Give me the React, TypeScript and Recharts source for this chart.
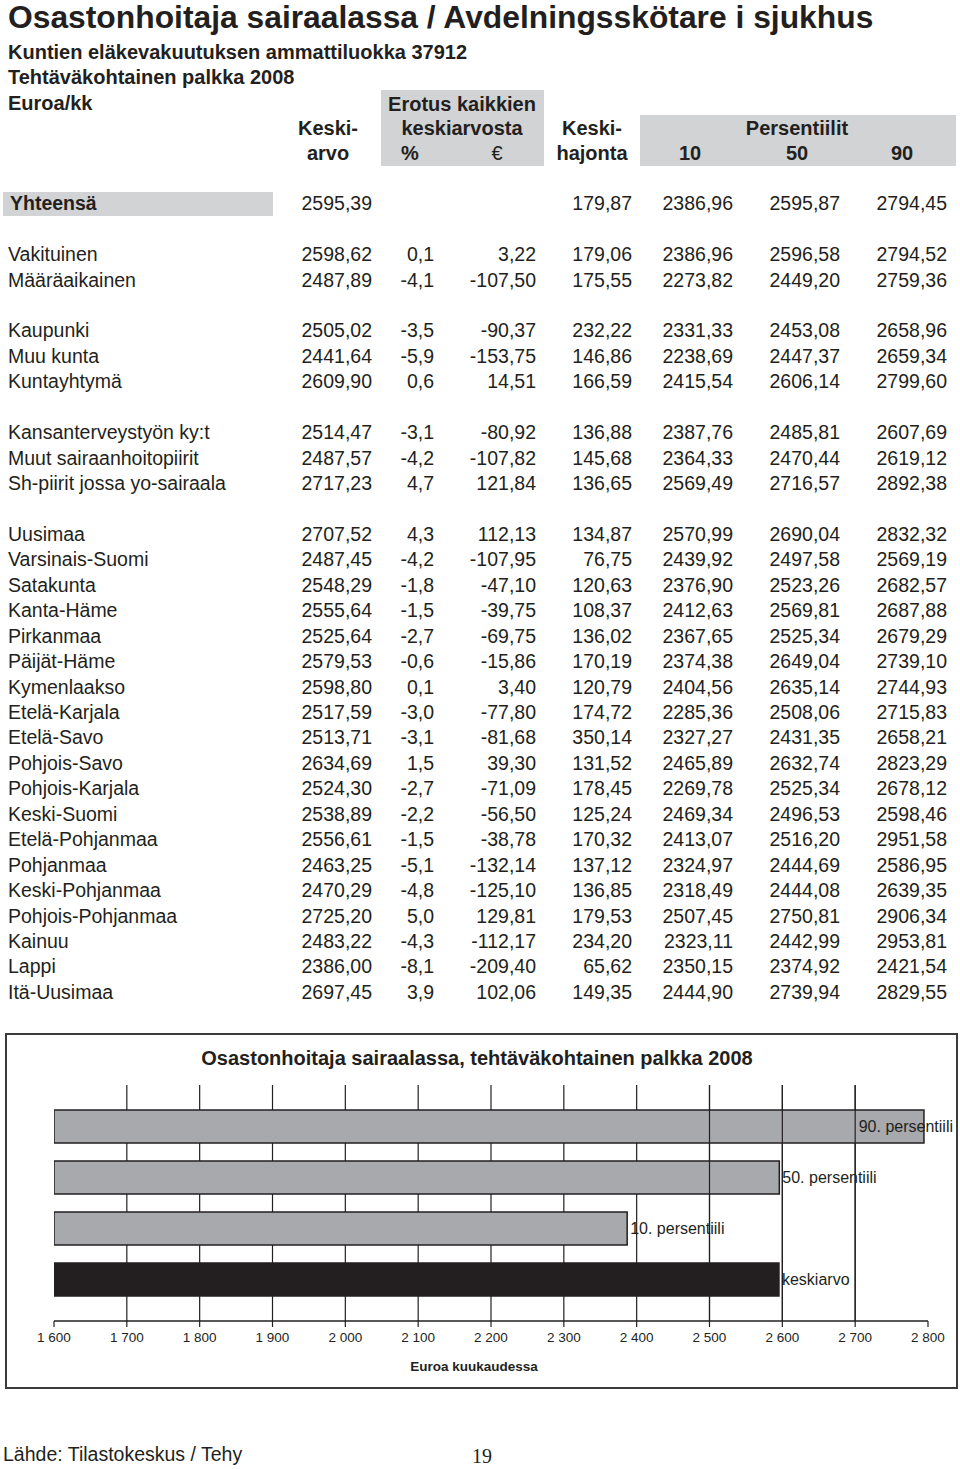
import React from 'react';
import { BarChart, Bar, XAxis, YAxis, CartesianGrid, Cell, LabelList, Label, ReferenceLine } from 'recharts';

const FONT = "'Liberation Sans', Arial, Helvetica, sans-serif";
const SERIF = "'Liberation Serif', 'Times New Roman', serif";
const INK = '#231f20';
const GREY_BOX = '#d1d3d4';

// ---------- table data ----------
const rowLabels = ['Yhteensä', 'Vakituinen', 'Määräaikainen', 'Kaupunki', 'Muu kunta', 'Kuntayhtymä', 'Kansanterveystyön ky:t', 'Muut sairaanhoitopiirit', 'Sh-piirit jossa yo-sairaala', 'Uusimaa', 'Varsinais-Suomi', 'Satakunta', 'Kanta-Häme', 'Pirkanmaa', 'Päijät-Häme', 'Kymenlaakso', 'Etelä-Karjala', 'Etelä-Savo', 'Pohjois-Savo', 'Pohjois-Karjala', 'Keski-Suomi', 'Etelä-Pohjanmaa', 'Pohjanmaa', 'Keski-Pohjanmaa', 'Pohjois-Pohjanmaa', 'Kainuu', 'Lappi', 'Itä-Uusimaa'];
const groupSizes = [1, 2, 3, 3, 19];
const keskiarvo = [2595.39, 2598.62, 2487.89, 2505.02, 2441.64, 2609.90, 2514.47, 2487.57, 2717.23, 2707.52, 2487.45, 2548.29, 2555.64, 2525.64, 2579.53, 2598.80, 2517.59, 2513.71, 2634.69, 2524.30, 2538.89, 2556.61, 2463.25, 2470.29, 2725.20, 2483.22, 2386.00, 2697.45];
const erotusPct = [null, 0.1, -4.1, -3.5, -5.9, 0.6, -3.1, -4.2, 4.7, 4.3, -4.2, -1.8, -1.5, -2.7, -0.6, 0.1, -3.0, -3.1, 1.5, -2.7, -2.2, -1.5, -5.1, -4.8, 5.0, -4.3, -8.1, 3.9];
const erotusEur = [null, 3.22, -107.50, -90.37, -153.75, 14.51, -80.92, -107.82, 121.84, 112.13, -107.95, -47.10, -39.75, -69.75, -15.86, 3.40, -77.80, -81.68, 39.30, -71.09, -56.50, -38.78, -132.14, -125.10, 129.81, -112.17, -209.40, 102.06];
const hajonta = [179.87, 179.06, 175.55, 232.22, 146.86, 166.59, 136.88, 145.68, 136.65, 134.87, 76.75, 120.63, 108.37, 136.02, 170.19, 120.79, 174.72, 350.14, 131.52, 178.45, 125.24, 170.32, 137.12, 136.85, 179.53, 234.20, 65.62, 149.35];
const p10 = [2386.96, 2386.96, 2273.82, 2331.33, 2238.69, 2415.54, 2387.76, 2364.33, 2569.49, 2570.99, 2439.92, 2376.90, 2412.63, 2367.65, 2374.38, 2404.56, 2285.36, 2327.27, 2465.89, 2269.78, 2469.34, 2413.07, 2324.97, 2318.49, 2507.45, 2323.11, 2350.15, 2444.90];
const p50 = [2595.87, 2596.58, 2449.20, 2453.08, 2447.37, 2606.14, 2485.81, 2470.44, 2716.57, 2690.04, 2497.58, 2523.26, 2569.81, 2525.34, 2649.04, 2635.14, 2508.06, 2431.35, 2632.74, 2525.34, 2496.53, 2516.20, 2444.69, 2444.08, 2750.81, 2442.99, 2374.92, 2739.94];
const p90 = [2794.45, 2794.52, 2759.36, 2658.96, 2659.34, 2799.60, 2607.69, 2619.12, 2892.38, 2832.32, 2569.19, 2682.57, 2687.88, 2679.29, 2739.10, 2744.93, 2715.83, 2658.21, 2823.29, 2678.12, 2598.46, 2951.58, 2586.95, 2639.35, 2906.34, 2953.81, 2421.54, 2829.55];

// ---------- chart data ----------
const chartCategories = ['90. persentiili', '50. persentiili', '10. persentiili', 'keskiarvo'];
const chartValues = [2794.45, 2595.87, 2386.96, 2595.39];
const chartColors = ['#a7a9ac', '#a7a9ac', '#a7a9ac', INK];
const xTickValues = [1600, 1700, 1800, 1900, 2000, 2100, 2200, 2300, 2400, 2500, 2600, 2700, 2800];
const xTickLabels = ['1 600', '1 700', '1 800', '1 900', '2 000', '2 100', '2 200', '2 300', '2 400', '2 500', '2 600', '2 700', '2 800'];
const gridValues = [1700, 1800, 1900, 2000, 2100, 2200, 2300, 2400, 2500, 2600, 2700];
const overlayGridValues = [2500, 2600, 2700];

const chartData = chartCategories.map((name, i) => ({ name, value: chartValues[i] }));

const fmt = (v: number | null, d: number) => (v === null ? '' : v.toFixed(d).replace('.', ','));

type TxtProps = { x: number; y: number; size: number; bold?: boolean; align?: 'left' | 'right' | 'center'; family?: string; children: React.ReactNode };
const Txt = ({ x, y, size, bold, align = 'left', family = FONT, children }: TxtProps) => {
  const style: React.CSSProperties = {
    position: 'absolute',
    top: y - size / 2,
    fontSize: size,
    lineHeight: `${size}px`,
    fontFamily: family,
    fontWeight: bold ? 700 : 400,
    color: INK,
    whiteSpace: 'nowrap',
  };
  if (align === 'left') style.left = x;
  else if (align === 'right') { style.right = 960 - x; style.textAlign = 'right'; }
  else { style.left = x - 300; style.width = 600; style.textAlign = 'center'; }
  return <div style={style}>{children}</div>;
};

const colRights = [372, 434, 536, 632, 733, 840, 947];
const ROW0 = 204;
const PITCH = 25.44;
const BODY = 19.5;

const BarLabel = (props: any) => {
  const { x, y, width, height, value } = props;
  const fs = 16;
  const est = String(value).length * fs * 0.4;
  const limit = 948;
  const end = x + width + 3;
  const overflow = end + est > limit;
  return (
    <text
      x={overflow ? limit : end}
      y={y + height / 2}
      textAnchor={overflow ? 'end' : 'start'}
      dominantBaseline="central"
      fontSize={fs}
      fontFamily={FONT}
      fill={INK}
    >
      {value}
    </text>
  );
};

export default function App() {
  const slots: number[] = [];
  let slot = 0;
  groupSizes.forEach((g) => {
    for (let k = 0; k < g; k++) slots.push(slot++);
    slot++;
  });

  return (
    <div style={{ position: 'absolute', left: 0, top: 0, width: 960, height: 1469, background: '#fff', overflow: 'hidden' }}>
      <Txt x={8} y={17.5} size={31.8} bold>Osastonhoitaja sairaalassa / Avdelningsskötare i sjukhus</Txt>
      <Txt x={8} y={52} size={20} bold>Kuntien eläkevakuutuksen ammattiluokka 37912</Txt>
      <Txt x={8} y={77} size={20} bold>Tehtäväkohtainen palkka 2008</Txt>
      <Txt x={8} y={103} size={20} bold>Euroa/kk</Txt>

      {/* header boxes */}
      <div style={{ position: 'absolute', left: 381, top: 90, width: 163, height: 76, background: GREY_BOX }} />
      <div style={{ position: 'absolute', left: 640, top: 115, width: 316, height: 51, background: GREY_BOX }} />
      <div style={{ position: 'absolute', left: 3, top: 192, width: 270, height: 24, background: GREY_BOX }} />

      <Txt x={328} y={128} size={20} bold align="center">Keski-</Txt>
      <Txt x={328} y={153} size={20} bold align="center">arvo</Txt>
      <Txt x={462} y={104} size={20} bold align="center">Erotus kaikkien</Txt>
      <Txt x={462} y={128} size={20} bold align="center">keskiarvosta</Txt>
      <Txt x={410} y={153} size={20} bold align="center">%</Txt>
      <Txt x={497} y={153} size={20} align="center">€</Txt>
      <Txt x={592} y={128} size={20} bold align="center">Keski-</Txt>
      <Txt x={592} y={153} size={20} bold align="center">hajonta</Txt>
      <Txt x={797} y={128} size={20} bold align="center">Persentiilit</Txt>
      <Txt x={690} y={153} size={20} bold align="center">10</Txt>
      <Txt x={797} y={153} size={20} bold align="center">50</Txt>
      <Txt x={902} y={153} size={20} bold align="center">90</Txt>

      {rowLabels.map((lab, i) => {
        const cy = ROW0 + slots[i] * PITCH;
        const cells = [fmt(keskiarvo[i], 2), fmt(erotusPct[i], 1), fmt(erotusEur[i], 2), fmt(hajonta[i], 2), fmt(p10[i], 2), fmt(p50[i], 2), fmt(p90[i], 2)];
        return (
          <React.Fragment key={lab}>
            <Txt x={i === 0 ? 10 : 8} y={cy} size={BODY} bold={i === 0}>{lab}</Txt>
            {cells.map((c, j) => (
              <Txt key={j} x={colRights[j]} y={cy} size={BODY} align="right">{c}</Txt>
            ))}
          </React.Fragment>
        );
      })}

      {/* chart box */}
      <div style={{ position: 'absolute', left: 5, top: 1033, width: 953, height: 356, boxSizing: 'border-box', border: '2px solid #3c3c3c' }} />
      <Txt x={477} y={1058} size={20} bold align="center">Osastonhoitaja sairaalassa, tehtäväkohtainen palkka 2008</Txt>
      <div style={{ position: 'absolute', left: 5, top: 1033 }}>
        <BarChart
          width={953}
          height={355}
          layout="vertical"
          data={chartData}
          margin={{ top: 52, right: 30, bottom: 17, left: 49 }}
          barSize={33}
        >
          <CartesianGrid horizontal={false} vertical verticalValues={gridValues} stroke={INK} strokeWidth={1.2} />
          <XAxis
            type="number"
            domain={[1600, 2800]}
            ticks={xTickValues}
            interval={0}
            allowDataOverflow
            height={50}
            tickFormatter={(v: number) => xTickLabels[xTickValues.indexOf(v)]}
            axisLine={{ stroke: INK, strokeWidth: 1.6 }}
            tickLine={{ stroke: INK, strokeWidth: 1.2 }}
            tickSize={6}
            tickMargin={5}
            tick={{ fontSize: 13.5, fill: INK, fontFamily: FONT }}
          >
            <Label
              content={(p: any) => {
                const vb = p.viewBox;
                return (
                  <text x={vb.x + vb.width / 2 - 17} y={vb.y + vb.height} textAnchor="middle" fontSize={13.5} fontWeight={700} fontFamily={FONT} fill={INK}>
                    Euroa kuukaudessa
                  </text>
                );
              }}
            />
          </XAxis>
          <YAxis
            type="category"
            dataKey="name"
            width={0}
            tick={false}
            tickLine={false}
            axisLine={{ stroke: INK, strokeWidth: 1.6 }}
            padding={{ top: 16, bottom: 16 }}
          />
          <Bar dataKey="value" isAnimationActive={false} stroke={INK} strokeWidth={1.5}>
            {chartData.map((d, i) => (
              <Cell key={d.name} fill={chartColors[i]} />
            ))}
            <LabelList dataKey="name" content={<BarLabel />} />
          </Bar>
          {overlayGridValues.map((v) => (
            <ReferenceLine key={v} x={v} stroke={INK} strokeWidth={1.2} />
          ))}
        </BarChart>
      </div>

      <Txt x={3} y={1455} size={19.5}>Lähde: Tilastokeskus / Tehy</Txt>
      <Txt x={482} y={1456} size={20} family={SERIF} align="center">19</Txt>
    </div>
  );
}
